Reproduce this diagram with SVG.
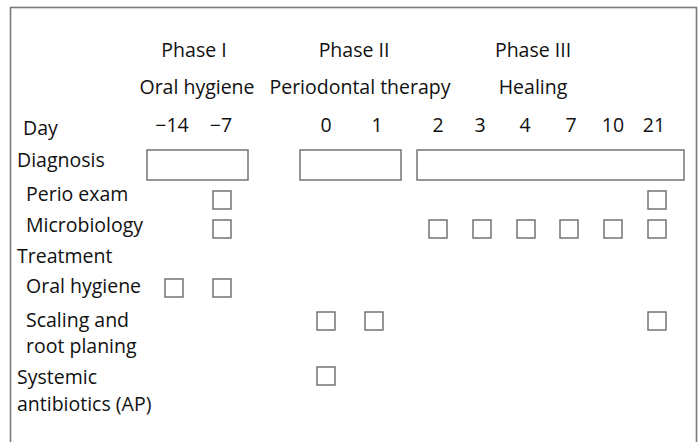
<svg xmlns="http://www.w3.org/2000/svg" width="700" height="442" viewBox="0 0 700 442">
<style>
text{font-family:"Open Sans","Noto Sans","Liberation Sans",sans-serif;font-size:19.5px;fill:#111}
.c{text-anchor:middle}
.b{fill:#fff;stroke:#6a6a6a;stroke-width:1.4}
.f{fill:none;stroke:#7a7a7a;stroke-width:1.6}
</style>
<rect width="700" height="442" fill="#fff"/>
<rect class="f" x="10.5" y="7.5" width="686" height="460"/>
<g id="headers">
<text class="c" x="194" y="57">Phase I</text>
<text class="c" x="354" y="57">Phase II</text>
<text class="c" x="533" y="57">Phase III</text>
<text class="c" x="197" y="94">Oral hygiene</text>
<text class="c" x="360" y="94">Periodontal therapy</text>
<text class="c" x="533" y="94">Healing</text>
</g>
<g id="days">
<text x="23" y="135">Day</text>
<text class="c" x="172" y="132">−14</text>
<text class="c" x="221" y="132">−7</text>
<text class="c" x="326" y="132">0</text>
<text class="c" x="377" y="132">1</text>
<text class="c" x="438" y="132">2</text>
<text class="c" x="480" y="132">3</text>
<text class="c" x="525" y="132">4</text>
<text class="c" x="571" y="132">7</text>
<text class="c" x="613" y="132">10</text>
<text class="c" x="654" y="132">21</text>
</g>
<g id="diagnosis">
<text x="17" y="167">Diagnosis</text>
<rect class="b" x="147" y="150" width="101" height="30"/>
<rect class="b" x="300" y="150" width="101" height="30"/>
<rect class="b" x="417" y="150" width="267" height="30"/>
</g>
<g id="perio-exam">
<text x="26" y="201">Perio exam</text>
<rect class="b" x="213" y="191" width="18" height="18"/>
<rect class="b" x="648" y="191" width="18" height="18"/>
</g>
<g id="microbiology">
<text x="26" y="232">Microbiology</text>
<rect class="b" x="213" y="220" width="18" height="18"/>
<rect class="b" x="429" y="220" width="18" height="18"/>
<rect class="b" x="473" y="220" width="18" height="18"/>
<rect class="b" x="517" y="220" width="18" height="18"/>
<rect class="b" x="560" y="220" width="18" height="18"/>
<rect class="b" x="604" y="220" width="18" height="18"/>
<rect class="b" x="648" y="220" width="18" height="18"/>
</g>
<g id="treatment">
<text x="17" y="263">Treatment</text>
</g>
<g id="oral-hygiene">
<text x="26" y="293">Oral hygiene</text>
<rect class="b" x="165" y="279" width="18" height="18"/>
<rect class="b" x="213" y="279" width="18" height="18"/>
</g>
<g id="scaling">
<text x="26" y="327">Scaling and</text>
<text x="26" y="353">root planing</text>
<rect class="b" x="317" y="312" width="18" height="18"/>
<rect class="b" x="365" y="312" width="18" height="18"/>
<rect class="b" x="648" y="312" width="18" height="18"/>
</g>
<g id="antibiotics">
<text x="17" y="384">Systemic</text>
<text x="17" y="410.5">antibiotics (AP)</text>
<rect class="b" x="317" y="367" width="18" height="18"/>
</g>
</svg>
